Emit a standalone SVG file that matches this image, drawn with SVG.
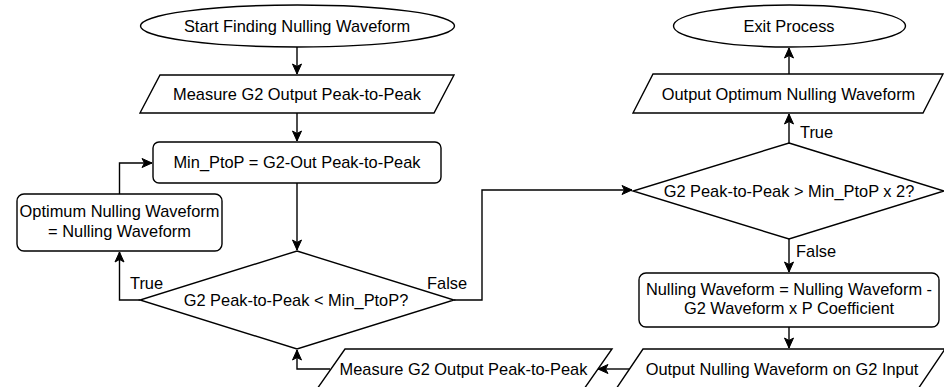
<svg xmlns="http://www.w3.org/2000/svg" width="944" height="387" viewBox="0 0 944 387">
<defs>
<style>
.s{fill:#fff;stroke:#000;stroke-width:1.4}
.c{fill:none;stroke:#000;stroke-width:1.4}
text{font-family:"Liberation Sans",Arial,sans-serif;font-size:16.4px;fill:#000}
.m{text-anchor:middle}
</style>
<marker id="a" markerUnits="userSpaceOnUse" markerWidth="12" markerHeight="12" refX="10" refY="5" orient="auto" overflow="visible">
<path d="M0,0.5 L10,5 L0,9.5 L2.5,5 Z" fill="#000" stroke="#000" stroke-width="1"/>
</marker>
</defs>
<rect width="944" height="387" fill="#fff"/>
<g id="connectors">
<path class="c" d="M297,47 V74" marker-end="url(#a)"/>
<path class="c" d="M297,113 V141" marker-end="url(#a)"/>
<path class="c" d="M297,183 V250" marker-end="url(#a)"/>
<path class="c" d="M140,300 H119.5 V252" marker-end="url(#a)"/>
<path class="c" d="M119.5,194 V163 H152" marker-end="url(#a)"/>
<path class="c" d="M454,300 H482 V190 H632" marker-end="url(#a)"/>
<path class="c" d="M789,143 V114" marker-end="url(#a)"/>
<path class="c" d="M789,74 V48" marker-end="url(#a)"/>
<path class="c" d="M789,239 V272" marker-end="url(#a)"/>
<path class="c" d="M789,327 V348" marker-end="url(#a)"/>
<path class="c" d="M630,369 H598" marker-end="url(#a)"/>
<path class="c" d="M330,369 H297 V350" marker-end="url(#a)"/>
<text x="130" y="289">True</text>
<text x="427" y="289">False</text>
<text x="800" y="138">True</text>
<text x="796" y="257">False</text>
</g>
<g id="start">
<ellipse class="s" cx="297.5" cy="26" rx="157" ry="21"/>
<text class="m" x="297" y="31.5">Start Finding Nulling Waveform</text>
</g>
<g id="measure1">
<path class="s" d="M160,75 H454 L434,113 H140 Z"/>
<text class="m" x="297" y="100">Measure G2 Output Peak-to-Peak</text>
</g>
<g id="minptop">
<rect class="s" x="153" y="142" width="288" height="41" rx="6"/>
<text class="m" x="297" y="168">Min_PtoP = G2-Out Peak-to-Peak</text>
</g>
<g id="optimum">
<rect class="s" x="17" y="194" width="205" height="57" rx="7"/>
<text class="m" x="119.5" y="217">Optimum Nulling Waveform</text>
<text class="m" x="119.5" y="236.5">= Nulling Waveform</text>
</g>
<g id="decision1">
<path class="s" d="M297,251 L454,300 L297,349 L140,300 Z"/>
<text class="m" x="296" y="306">G2 Peak-to-Peak &lt; Min_PtoP?</text>
</g>
<g id="decision2">
<path class="s" d="M789,143 L944,191 L789,239 L633,191 Z"/>
<text class="m" x="789" y="196.5">G2 Peak-to-Peak &gt; Min_PtoP x 2?</text>
</g>
<g id="exit">
<ellipse class="s" cx="789.5" cy="26" rx="116" ry="21"/>
<text class="m" x="789" y="31.5">Exit Process</text>
</g>
<g id="outputOptimum">
<path class="s" d="M653,74 H943 L923,113 H633 Z"/>
<text class="m" x="788.5" y="100">Output Optimum Nulling Waveform</text>
</g>
<g id="update">
<rect class="s" x="639" y="273" width="300" height="54" rx="7"/>
<text class="m" x="789" y="295">Nulling Waveform = Nulling Waveform -</text>
<text class="m" x="789" y="314">G2 Waveform x P Coefficient</text>
</g>
<g id="outputNulling">
<path class="s" d="M643,349 H945 L918,389 H616 Z"/>
<text class="m" x="782" y="374.5">Output Nulling Waveform on G2 Input</text>
</g>
<g id="measure2">
<path class="s" d="M345,349 H612 L584,389 H317 Z"/>
<text class="m" x="463.5" y="374.5">Measure G2 Output Peak-to-Peak</text>
</g>
</svg>
